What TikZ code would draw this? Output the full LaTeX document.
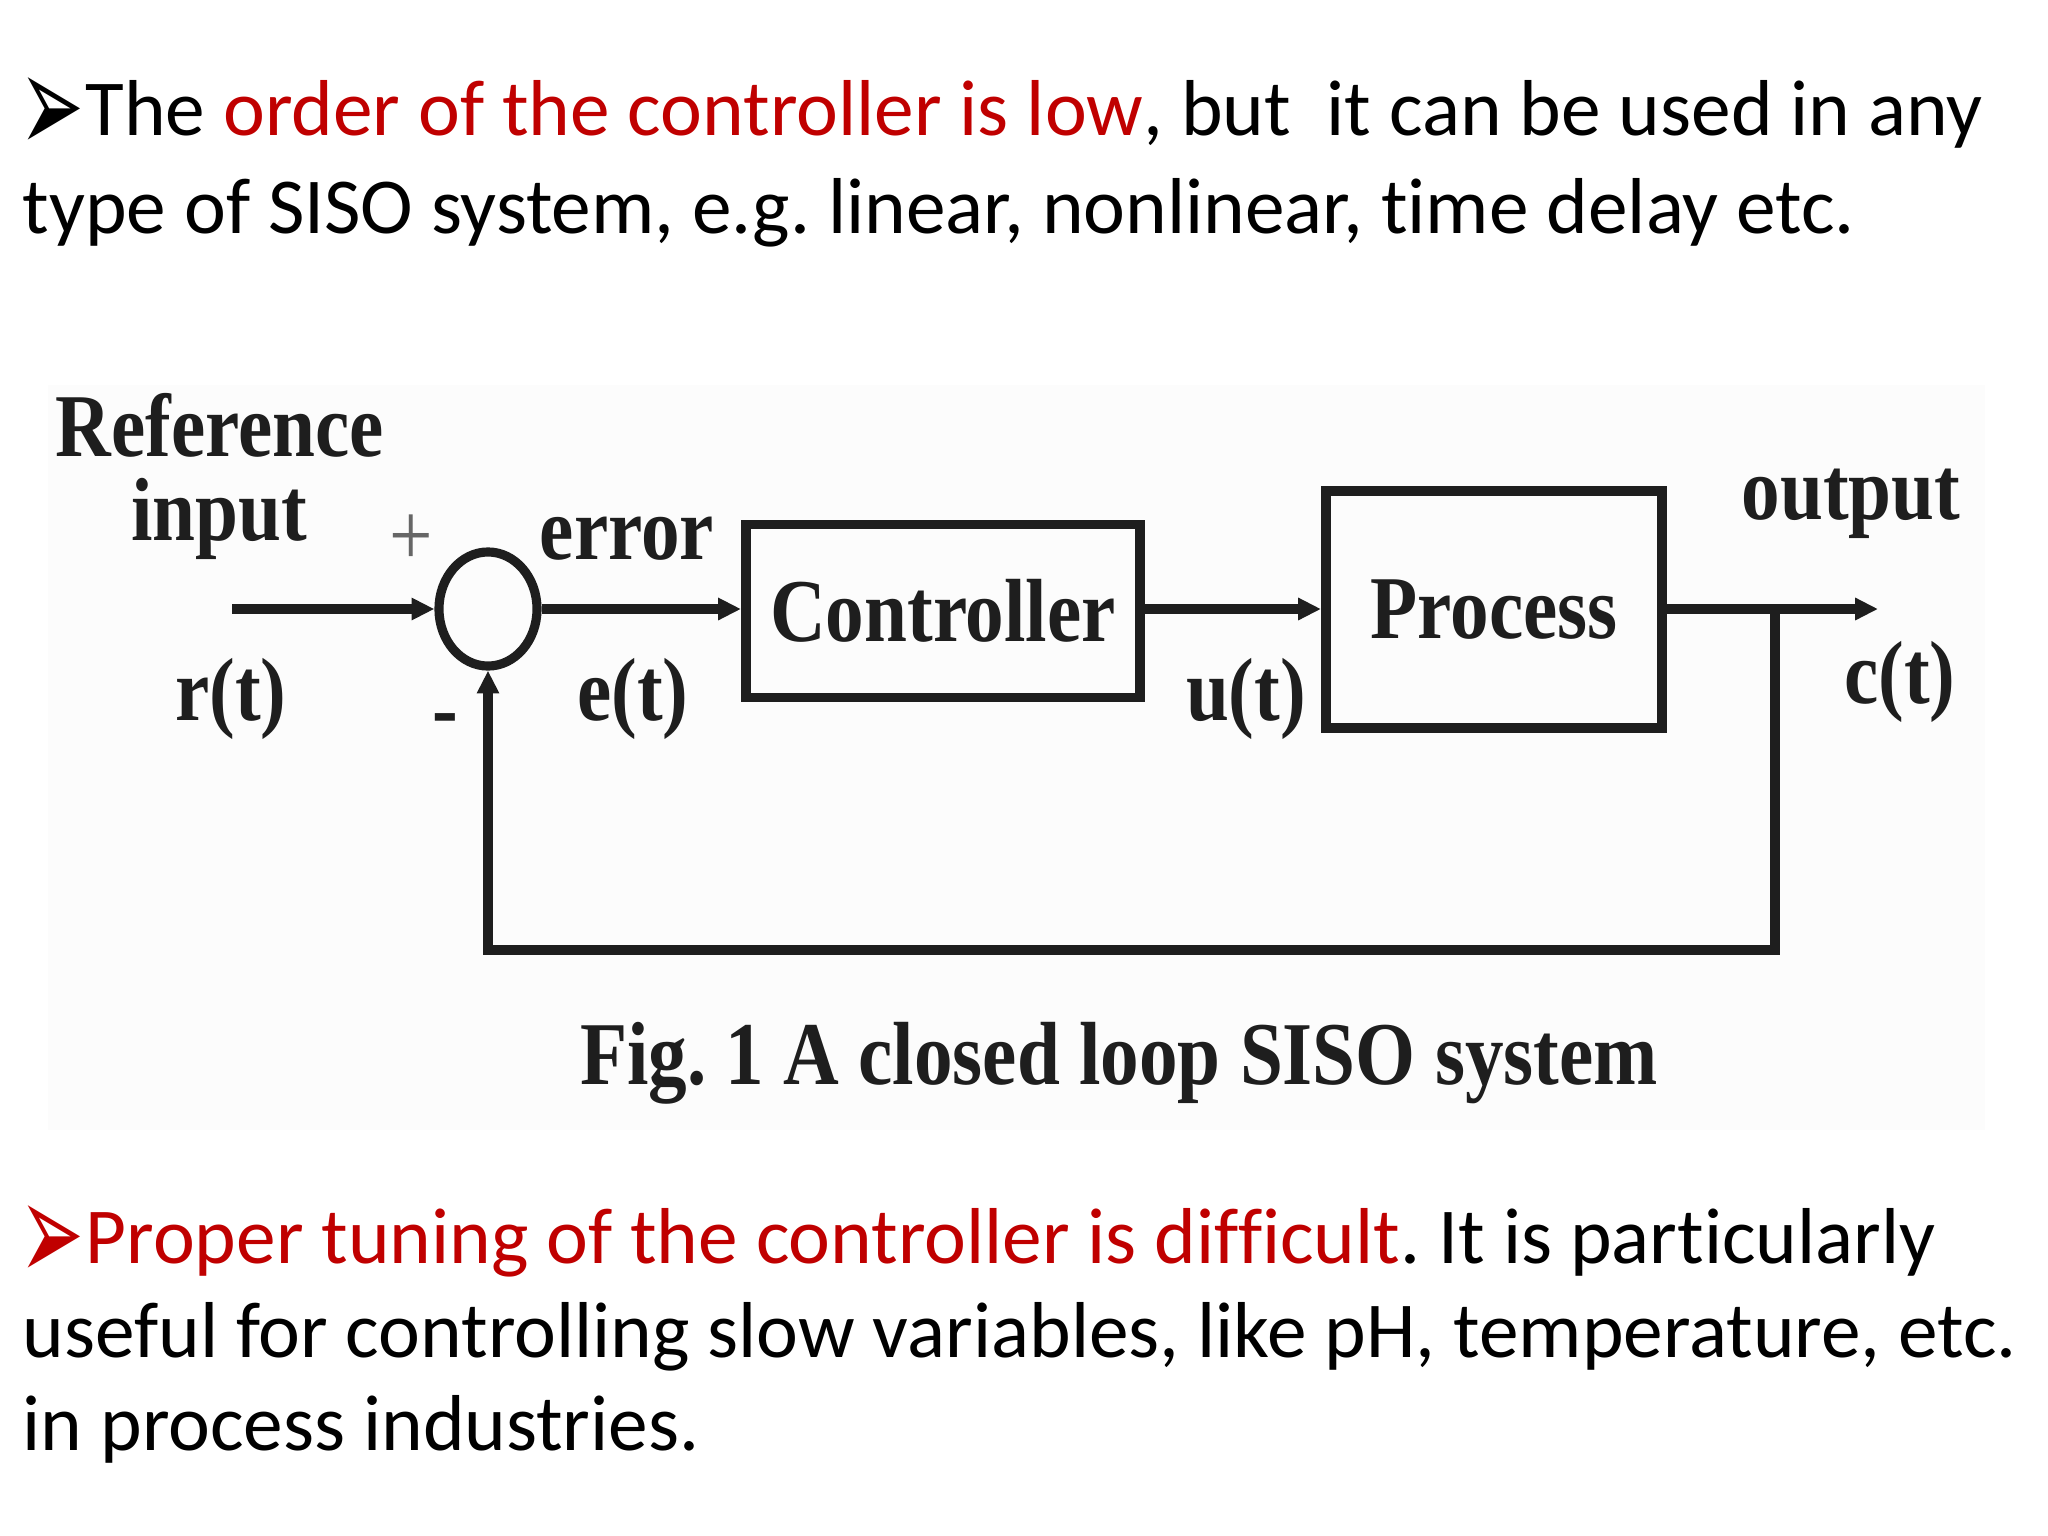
\documentclass[tikz,border=0pt]{standalone}
\usepackage{fontspec}
\setmainfont{Carlito}[Ligatures={NoCommon}]
\newfontfamily\diagfont[FakeStretch=0.86]{Liberation Serif}
\newfontfamily\symfont{DejaVu Sans}
\usetikzlibrary{arrows.meta,shapes.geometric}
\definecolor{slidered}{HTML}{C00000}
\definecolor{ink}{HTML}{1E1E1E}
\frenchspacing
\newcommand{\slidebullet}{\smash{\raisebox{-0.185cm}{\scalebox{1}[1.84]{➢}}}}
\begin{document}
\begin{tikzpicture}[x=0.01cm,y=-0.01cm,
  body/.style={anchor=base west,inner sep=0,font=\fontsize{22.55}{27}\selectfont},
  bul/.style={anchor=base west,inner sep=0,font=\symfont\fontsize{22}{26}\selectfont},
  lab/.style={anchor=base,inner sep=0,text=ink,font=\diagfont\bfseries\fontsize{25.5}{30}\selectfont},
  wire/.style={line width=2.6pt,draw=ink},
  arr/.style={wire,-{Triangle[length=6.5pt,width=6pt]}},
  blk/.style={draw=ink,line width=2.8pt,inner sep=0,text=ink,font=\diagfont\bfseries\fontsize{25.5}{30}\selectfont}
]
\useasboundingbox (0,0) rectangle (2048,1536);
\fill[white] (0,0) rectangle (2048,1536);
\fill[black!1] (48,385) rectangle (1985,1130);

% top paragraph
\node[bul] (b1) at (19,135) {\slidebullet};
\node[body] (t1) at (85,135) {The {\color{slidered}order of the controller is low}, but~ it can be used in any};
\node[body] (t2) at (22,233) {type of SISO system, e.g. linear, nonlinear, time delay etc.};

% diagram
\node[ellipse,draw=ink,line width=2.6pt,minimum width=0.98cm,minimum height=1.14cm,inner sep=0] (sum) at (488,609) {};
\node[blk,minimum width=3.94cm,minimum height=1.73cm] (ctrl) at (943,611) {Controller};
\node[blk,minimum width=3.36cm,minimum height=2.37cm] (proc) at (1494,609.5) {Process};

\coordinate (rin) at (232,609);
\coordinate (out) at (1878,609);
\coordinate (br) at (1775,609);
\coordinate (fb) at (1775,950);

\draw[arr] (rin) -- (sum.west);
\draw[arr] (sum.east) -- (sum.east -| ctrl.west);
\draw[arr] (ctrl.east |- sum) -- (proc.west |- sum);
\draw[arr] (proc.east |- sum) -- (out);
\draw[arr] (br) -- (fb) -| (sum.south);

\node[lab] (lref) at (220,456) {Reference};
\node[lab] (linp) at (219,540) {input};
\node[lab,text=black!60,font=\diagfont\fontsize{25.5}{30}\selectfont] (plus) at (411,565) {+};
\node[lab] (lr) at (231,720) {r(t)};
\node[lab] (lerr) at (627,559) {error};
\node[lab] (le) at (633,720) {e(t)};
\node[lab,anchor=center] (minus) at (445,726) {-};
\node[lab] (lu) at (1246,720) {u(t)};
\node[lab] (lout) at (1851,519) {output};
\node[lab] (lc) at (1900,703) {c(t)};
\node[lab] (cap) at (1119,1084) {Fig. 1 A closed loop SISO system};

% bottom paragraph
\node[bul,text=slidered] (b2) at (19,1263) {\slidebullet};
\node[body] (t3) at (85,1263) {{\color{slidered}Proper tuning of the controller is difficult}. It is particularly};
\node[body] (t4) at (22,1357) {useful for controlling slow variables, like pH, temperature, etc.};
\node[body] (t5) at (22,1450) {in process industries.};
\end{tikzpicture}
\end{document}
